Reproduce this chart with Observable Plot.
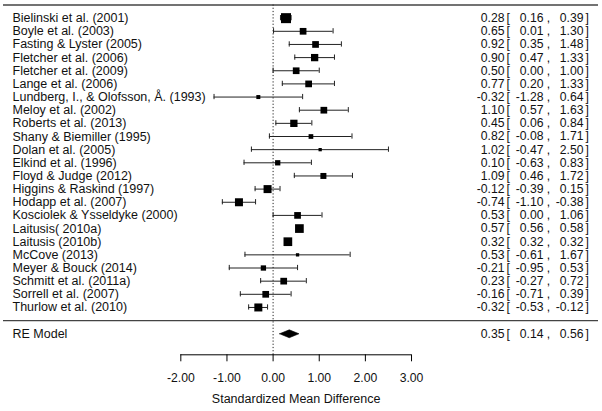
<!DOCTYPE html>
<html>
<head>
<meta charset="utf-8">
<script src="https://cdn.jsdelivr.net/npm/d3@7"></script>
<script src="https://cdn.jsdelivr.net/npm/@observablehq/plot@0.6"></script>
<style>
  html, body { margin: 0; padding: 0; background: white; }
</style>
</head>
<body>
<div id="chart"></div>
<script>
const studies = [
  "Bielinski et al. (2001)",
  "Boyle et al. (2003)",
  "Fasting & Lyster (2005)",
  "Fletcher et al. (2006)",
  "Fletcher et al. (2009)",
  "Lange et al. (2006)",
  "Lundberg, I., & Olofsson, Å. (1993)",
  "Meloy et al. (2002)",
  "Roberts et al. (2013)",
  "Shany & Biemiller (1995)",
  "Dolan et al. (2005)",
  "Elkind et al. (1996)",
  "Floyd & Judge (2012)",
  "Higgins & Raskind (1997)",
  "Hodapp et al. (2007)",
  "Kosciolek & Ysseldyke (2000)",
  "Laitusis( 2010a)",
  "Laitusis (2010b)",
  "McCove (2013)",
  "Meyer & Bouck (2014)",
  "Schmitt et al. (2011a)",
  "Sorrell et al. (2007)",
  "Thurlow et al. (2010)"
];
const estimates = [0.28, 0.65, 0.92, 0.90, 0.50, 0.77, -0.32, 1.10, 0.45, 0.82, 1.02, 0.10, 1.09, -0.12, -0.74, 0.53, 0.57, 0.32, 0.53, -0.21, 0.23, -0.16, -0.32];
const lowers    = [0.16, 0.01, 0.35, 0.47, 0.00, 0.20, -1.28, 0.57, 0.06, -0.08, -0.47, -0.63, 0.46, -0.39, -1.10, 0.00, 0.56, 0.32, -0.61, -0.95, -0.27, -0.71, -0.53];
const uppers    = [0.39, 1.30, 1.48, 1.33, 1.00, 1.33, 0.64, 1.63, 0.84, 1.71, 2.50, 0.83, 1.72, 0.15, -0.38, 1.06, 0.58, 0.32, 1.67, 0.53, 0.72, 0.39, -0.12];
// relative study weights
const weights   = [10, 6.7, 6.7, 7.3, 6.7, 6.7, 4, 6.7, 7.3, 4.7, 3.3, 5.3, 6, 8, 8, 6.7, 8.7, 8.7, 3.3, 5.3, 6.7, 6.7, 8];

const reLabel = "RE Model";
const reEstimate = 0.35, reLower = 0.14, reUpper = 0.56;

const xTicks = [-2, -1, 0, 1, 2, 3];
const xLabel = "Standardized Mean Difference";

const fmt = d => d.toFixed(2);
const rows = studies.map((s, i) => ({label: s, est: estimates[i], lo: lowers[i], hi: uppers[i], w: weights[i], row: i}));
const sepRow = studies.length;        // separator line
const reRow = studies.length + 1;     // summary row
const topRow = -1;
const axisRow = 25.6;
const summary = [{label: reLabel, est: reEstimate, lo: reLower, hi: reUpper, row: reRow}];
const all = rows.concat(summary);
const dh = 0.3;
const diamond = [
  {x: reLower, y: reRow}, {x: reEstimate, y: reRow - dh},
  {x: reUpper, y: reRow}, {x: reEstimate, y: reRow + dh}, {x: reLower, y: reRow}
];

const W = 602, H = 411;
const mL = 3, mR = 4;
const x0px = 272.6, pxPerUnit = 46.14;
const xDomain = [(mL - x0px) / pxPerUnit, (W - mR - x0px) / pxPerUnit];

const font = "'Liberation Sans', Arial, sans-serif";
const numSize = 12.2;
const labSize = 12.5;

const chart = Plot.plot({
  width: W,
  height: H,
  marginLeft: mL,
  marginRight: mR,
  marginTop: 4.5,
  marginBottom: 56.7,
  style: {fontFamily: font, fontSize: "12px", color: "black", background: "white"},
  x: {domain: xDomain},
  y: {domain: [topRow, axisRow], reverse: true, axis: null},
  r: {type: "linear", domain: [0, 10], range: [0, 10 / Math.sqrt(Math.PI)]},
  marks: [
    Plot.ruleY([topRow, sepRow], {stroke: "#444", strokeWidth: 1.3}),
    Plot.ruleX([0], {y1: topRow, y2: axisRow, stroke: "#222", strokeDasharray: "1.2,2"}),
    Plot.ruleY(rows, {y: "row", x1: "lo", x2: "hi", stroke: "#222", strokeWidth: 1}),
    Plot.ruleX(rows, {x: "lo", y1: d => d.row - 0.2, y2: d => d.row + 0.2, stroke: "#222"}),
    Plot.ruleX(rows, {x: "hi", y1: d => d.row - 0.2, y2: d => d.row + 0.2, stroke: "#222"}),
    Plot.dot(rows, {x: "est", y: "row", r: "w", symbol: "square", fill: "black", stroke: null}),
    Plot.line(diamond, {x: "x", y: "y", fill: "black", stroke: "black", strokeWidth: 0.6}),
    // labels
    Plot.text(all, {y: "row", text: "label", frameAnchor: "left", dx: 9, textAnchor: "start", fontSize: labSize, fill: "#111"}),
    // numeric columns
    Plot.text(all, {y: "row", text: d => fmt(d.est), frameAnchor: "right", dx: -94, textAnchor: "end", fontSize: numSize, fill: "#111"}),
    Plot.text(all, {y: "row", text: () => "[", frameAnchor: "right", dx: -92, textAnchor: "start", fontSize: numSize, fill: "#111"}),
    Plot.text(all, {y: "row", text: d => fmt(d.lo), frameAnchor: "right", dx: -55, textAnchor: "end", fontSize: numSize, fill: "#111"}),
    Plot.text(all, {y: "row", text: () => ",", frameAnchor: "right", dx: -50, textAnchor: "middle", fontSize: numSize, fill: "#111"}),
    Plot.text(all, {y: "row", text: d => fmt(d.hi), frameAnchor: "right", dx: -15, textAnchor: "end", fontSize: numSize, fill: "#111"}),
    Plot.text(all, {y: "row", text: () => "]", frameAnchor: "right", dx: -13, textAnchor: "start", fontSize: numSize, fill: "#111"}),
    // axis
    Plot.ruleY([{y: axisRow, x1: d3.min(xTicks), x2: d3.max(xTicks)}], {y: "y", x1: "x1", x2: "x2", stroke: "black"}),
    Plot.axisX({ticks: xTicks, tickFormat: fmt, tickSize: 7, tickPadding: 12, label: null, fontSize: numSize, stroke: "black", fill: "#111"}),
    Plot.text([xLabel], {x: d3.mean(d3.extent(xTicks)), frameAnchor: "bottom", dy: 48.4, text: d => d, fontSize: labSize, fill: "#111"})
  ]
});
document.getElementById("chart").appendChild(chart);
</script>
</body>
</html>
